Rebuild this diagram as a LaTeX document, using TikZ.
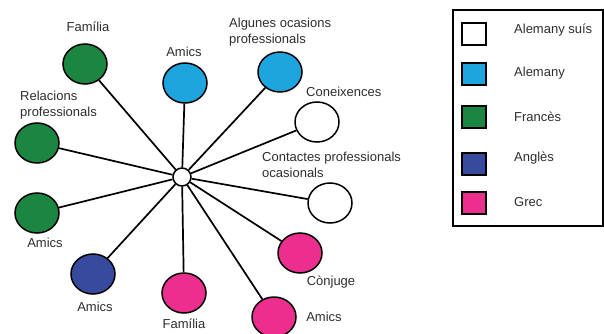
\documentclass[tikz,border=0pt]{standalone}
\usepackage{fontspec}
\setmainfont{Liberation Sans}
\usepackage{xcolor}
\usetikzlibrary{positioning,shapes.geometric}
\definecolor{langcyan}{RGB}{29,166,222}
\definecolor{langgreen}{RGB}{27,134,65}
\definecolor{langblue}{RGB}{56,74,157}
\definecolor{langpink}{RGB}{236,47,143}
\definecolor{textgrey}{RGB}{45,45,45}
\tikzset{
  tie/.style={circle,draw=black,line width=1.5pt,fill=white,
    minimum size=18pt,inner sep=0pt},
  contact/.style={ellipse,draw=black,line width=1.5pt,
    minimum width=44pt,minimum height=40pt,inner sep=0pt},
  link/.style={line width=1.7pt,draw=black},
  tag/.style={font=\fontsize{13}{16}\selectfont,text=textgrey,
    align=left,inner sep=0pt},
  keybox/.style={draw=black,line width=1.3pt,minimum width=24pt,
    minimum height=22pt,inner sep=0pt}
}

\begin{document}
\begin{tikzpicture}[x=1pt,y=-1pt]
  \useasboundingbox (0,0) rectangle (604,334);
  % centre
  \node[tie] (ego) at (182,177) {};
  % contacts
  \node[contact,fill=langgreen] (famfr) at (85,64) {};
  \node[contact,fill=langcyan] (amicsal) at (185,83) {};
  \node[contact,fill=langcyan] (ocasal) at (280,72) {};
  \node[contact,fill=white] (coneix) at (317,122) {};
  \node[contact,fill=white] (contprof) at (330,203) {};
  \node[contact,fill=langgreen] (relfr) at (37,143) {};
  \node[contact,fill=langgreen] (amicsfr) at (37,213) {};
  \node[contact,fill=langblue] (amicsen) at (93,274) {};
  \node[contact,fill=langpink] (famgr) at (184,293) {};
  \node[contact,fill=langpink] (amicsgr) at (274,317) {};
  \node[contact,fill=langpink] (conjgr) at (300,253) {};
  \foreach \c in {famfr,amicsal,ocasal,coneix,contprof,relfr,amicsfr,
                  amicsen,famgr,amicsgr,conjgr}
    \draw[link] (ego) -- (\c);
  % labels
  \node[tag] (lfamfr) at (88,27) {Família};
  \node[tag] (lamicsal) at (184,52) {Amics};
  \node[tag,anchor=west] (locasal) at (229,32) {Algunes ocasions\\professionals};
  \node[tag,anchor=west] (lconeix) at (306,92) {Coneixences};
  \node[tag,anchor=west] (lcontprof) at (262,165) {Contactes professionals\\ocasionals};
  \node[tag,anchor=west] (lrelfr) at (20,105) {Relacions\\professionals};
  \node[tag] (lamicsfr) at (45,243) {Amics};
  \node[tag] (lamicsen) at (95,307) {Amics};
  \node[tag] (lfamgr) at (184,324) {Família};
  \node[tag] (lamicsgr) at (324,317) {Amics};
  \node[tag] (lconjgr) at (331,282) {Cònjuge};
  % legend
  \node[draw=black,line width=1.3pt,minimum width=150pt,minimum height=216pt,
    inner sep=0pt] (legend) at (528,118) {};
  \node[keybox,fill=white] (kchde) at (474,34) {};
  \node[keybox,fill=langcyan] (kde) at (474,74) {};
  \node[keybox,fill=langgreen] (kfr) at (474,117) {};
  \node[keybox,fill=langblue] (ken) at (474,164) {};
  \node[keybox,fill=langpink] (kgr) at (474,203) {};
  \node[tag,anchor=west] at (514,30) {Alemany suís};
  \node[tag,anchor=west] at (514,73) {Alemany};
  \node[tag,anchor=west] at (514,117) {Francès};
  \node[tag,anchor=west] at (514,158) {Anglès};
  \node[tag,anchor=west] at (514,202) {Grec};
\end{tikzpicture}
\end{document}
